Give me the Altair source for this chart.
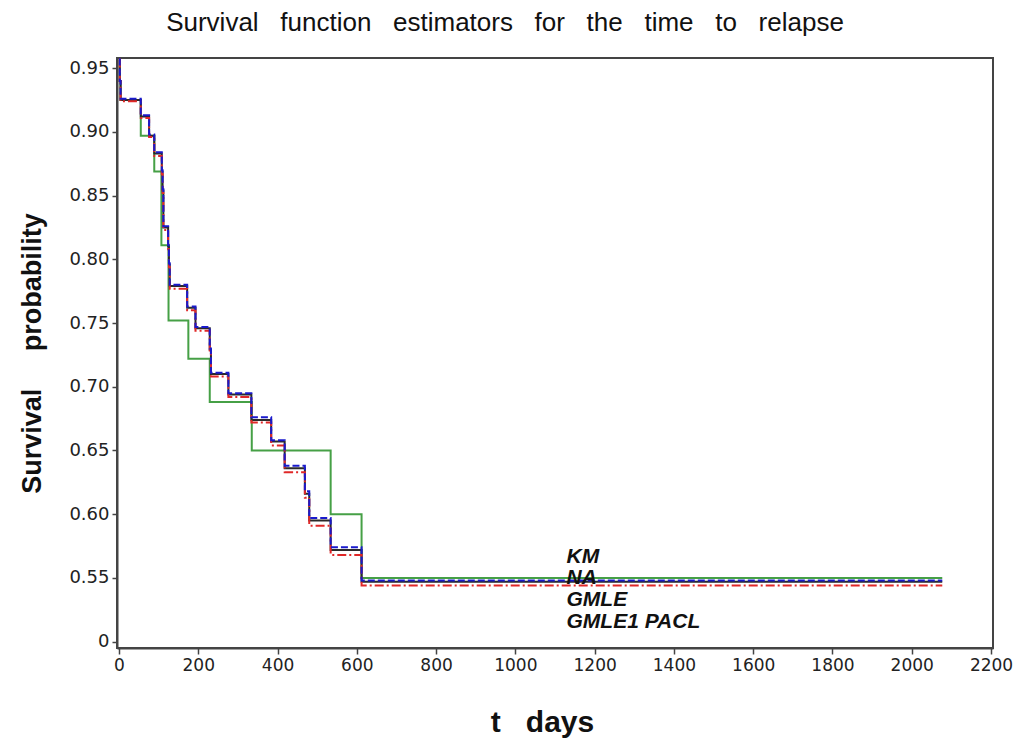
import altair as alt
import pandas as pd

# ---- data ----
times = [0, 2, 4, 55, 76, 89, 108, 110, 112, 124, 126, 128, 172, 193, 229, 232,
         276, 334, 384, 418, 469, 480, 534, 612, 2077]
km = [0.957, 0.940, 0.925, 0.912, 0.897, 0.883, 0.869, 0.854, 0.825, 0.810, 0.796,
      0.779, 0.762, 0.746, 0.729, 0.710, 0.694, 0.674, 0.657, 0.636, 0.616, 0.595,
      0.572, 0.547, 0.547]
na = [0.957, 0.940, 0.926, 0.913, 0.898, 0.884, 0.870, 0.855, 0.826, 0.811, 0.797,
      0.780, 0.763, 0.747, 0.730, 0.711, 0.695, 0.676, 0.658, 0.638, 0.618, 0.597,
      0.574, 0.548, 0.548]
gmle = [0.957, 0.940, 0.924, 0.911, 0.896, 0.881, 0.867, 0.852, 0.823, 0.808, 0.794,
        0.777, 0.760, 0.744, 0.727, 0.708, 0.692, 0.672, 0.654, 0.633, 0.613, 0.591,
        0.568, 0.544, 0.544]

pacl_times = [0, 2, 4, 55, 89, 107, 125, 175, 229, 335, 534, 612, 2077]
pacl = [0.957, 0.940, 0.925, 0.897, 0.869, 0.811, 0.752, 0.722, 0.688, 0.650,
        0.600, 0.550, 0.550]

ann_labels = ["KM", "NA", "GMLE", "GMLE1 PACL"]
ann_t = [1129, 1129, 1129, 1129]
ann_y = [0.5662, 0.5497, 0.5324, 0.5152]

x_ticks = list(range(0, 2201, 200))
y_ticks = [0.50, 0.55, 0.60, 0.65, 0.70, 0.75, 0.80, 0.85, 0.90, 0.95]

df_km = pd.DataFrame({"t": times, "s": km})
df_na = pd.DataFrame({"t": times, "s": na})
df_gm = pd.DataFrame({"t": times, "s": gmle})
df_pa = pd.DataFrame({"t": pacl_times, "s": pacl})
df_ann = pd.DataFrame({"t": ann_t, "s": ann_y, "label": ann_labels})

xscale = alt.Scale(domain=[-5, 2205], nice=False, zero=False)
yscale = alt.Scale(domain=[0.495, 0.958], nice=False, zero=False)

xaxis = alt.Axis(
    values=x_ticks, format="d", title="t\u00a0\u00a0 days", grid=False,
    labelFont="DejaVu Sans", labelFontSize=17, labelColor="#222", tickSize=6,
    tickColor="#444", tickWidth=1.5, domainColor="#444", domainWidth=2,
    labelPadding=3, titleFont="Liberation Sans", titleFontSize=30,
    titleFontWeight="bold", titleColor="#111", titlePadding=34, titleX=425,
)
yaxis = alt.Axis(
    values=y_ticks, title="Survival\u00a0\u00a0\u00a0\u00a0 probability",
    grid=False, labelFont="DejaVu Sans", labelFontSize=18, labelColor="#222",
    tickSize=5, tickColor="#444", tickWidth=1.5, domainColor="#444",
    domainWidth=2, labelPadding=3,
    labelExpr="datum.value < 0.52 ? '0' : format(datum.value, '.2f')",
    titleFont="Liberation Sans", titleFontSize=27, titleFontWeight="bold",
    titleColor="#111", titlePadding=22,
)


def step_line(df, color, width, dash=None):
    kw = dict(interpolate="step-after", color=color, strokeWidth=width, clip=True)
    if dash is not None:
        kw["strokeDash"] = dash
    return alt.Chart(df).mark_line(**kw).encode(
        x=alt.X("t:Q", scale=xscale, axis=xaxis),
        y=alt.Y("s:Q", scale=yscale, axis=yaxis),
    )


l_pa = step_line(df_pa, "#46a046", 2)
l_km = step_line(df_km, "#2a2a2a", 2)
l_gm = step_line(df_gm, "#e02828", 2, [9, 3, 2, 3])
l_na = step_line(df_na, "#1a1acc", 2, [7, 3])

txt = alt.Chart(df_ann).mark_text(
    align="left", baseline="middle", font="Liberation Sans", fontSize=21,
    fontStyle="italic", fontWeight="bold", color="#111",
).encode(x=alt.X("t:Q", scale=xscale), y=alt.Y("s:Q", scale=yscale), text="label:N")

sp = " \u00a0\u00a0"
title_text = sp.join(["Survival", "function", "estimators", "for", "the", "time", "to", "relapse"])

chart = alt.layer(l_pa, l_km, l_gm, l_na, txt).properties(
    width=876, height=590,
    title=alt.TitleParams(
        title_text, font="Liberation Sans", fontSize=26, fontWeight="normal",
        color="#111", anchor="middle", dx=-50, offset=22,
    ),
    autosize=alt.AutoSizeParams(type="none"),
    padding={"left": 117, "top": 58, "right": 20, "bottom": 97},
).configure(
    background="white",
    view=alt.ViewConfig(stroke="#444", strokeWidth=2),
)

chart.save("out.html", embed_options={"renderer": "svg", "actions": False})
